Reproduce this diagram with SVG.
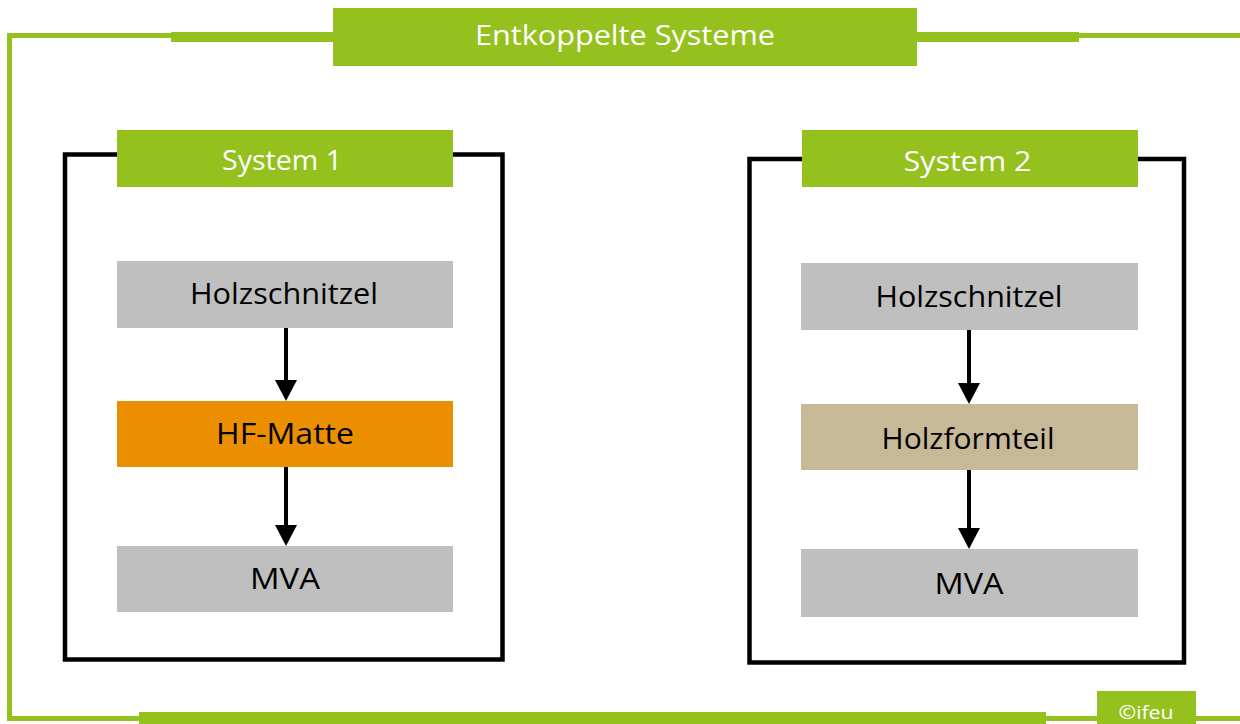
<svg xmlns="http://www.w3.org/2000/svg" width="1240" height="724" viewBox="0 0 1240 724">
<style>
.g{fill:#95C11F}
.frame{fill:none;stroke:#000;stroke-width:4.5}
.outer{fill:none;stroke:#95C11F;stroke-width:5}
.ht{font-family:"Open Sans","Liberation Sans",sans-serif;fill:#fff;text-anchor:middle}
.nt{font-family:"Open Sans","Liberation Sans",sans-serif;fill:#000;font-size:29px;text-anchor:middle}
.grey{fill:#BFBFBF}
.orange{fill:#EB8F00}
.tan{fill:#C7B998}
.arr{stroke:#000;stroke-width:4;fill:none}
.head{fill:#000}
</style>
<rect width="1240" height="724" fill="#fff"/>
<g id="outer-frame">
<path class="outer" d="M1240,35.5 H9.5 V718.5 H1240"/>
<rect class="g" x="171" y="32" width="162" height="10"/>
<rect class="g" x="917" y="32" width="162" height="10"/>
<rect class="g" x="139" y="712" width="907" height="12"/>
</g>
<g id="title">
<rect class="g" x="333" y="8" width="584" height="58"/>
<text class="ht" x="625" y="45" font-size="28" textLength="300" lengthAdjust="spacingAndGlyphs">Entkoppelte Systeme</text>
</g>
<g id="copyright">
<rect class="g" x="1097" y="691" width="99" height="33"/>
<text class="ht" x="1146" y="719" font-size="19" textLength="55" lengthAdjust="spacingAndGlyphs">©ifeu</text>
</g>
<g id="system1">
<rect class="frame" x="65" y="154.5" width="437.5" height="505"/>
<rect class="g" x="117" y="130" width="336" height="57"/>
<text class="ht" x="282" y="170" font-size="27" textLength="120" lengthAdjust="spacingAndGlyphs">System 1</text>
</g>
<g id="system2">
<rect class="frame" x="749.5" y="159" width="434.5" height="503.5"/>
<rect class="g" x="802" y="130" width="336" height="57"/>
<text class="ht" x="967.5" y="171" font-size="27" textLength="128" lengthAdjust="spacingAndGlyphs">System 2</text>
</g>
<g id="s1-holzschnitzel">
<rect class="grey" x="117" y="261" width="336" height="67"/>
<text class="nt" x="284" y="304" textLength="188" lengthAdjust="spacingAndGlyphs">Holzschnitzel</text>
</g>
<g id="s1-hf-matte">
<rect class="orange" x="117" y="401" width="336" height="66"/>
<text class="nt" x="285" y="444" textLength="138" lengthAdjust="spacingAndGlyphs">HF-Matte</text>
</g>
<g id="s1-mva">
<rect class="grey" x="117" y="546" width="336" height="66"/>
<text class="nt" x="285" y="589" textLength="70" lengthAdjust="spacingAndGlyphs">MVA</text>
</g>
<g id="s2-holzschnitzel">
<rect class="grey" x="801" y="263" width="337" height="67"/>
<text class="nt" x="969" y="307" textLength="187" lengthAdjust="spacingAndGlyphs">Holzschnitzel</text>
</g>
<g id="s2-holzformteil">
<rect class="tan" x="801" y="404" width="337" height="66"/>
<text class="nt" x="968" y="449" textLength="173" lengthAdjust="spacingAndGlyphs">Holzformteil</text>
</g>
<g id="s2-mva">
<rect class="grey" x="801" y="549" width="337" height="68"/>
<text class="nt" x="969" y="594" textLength="69" lengthAdjust="spacingAndGlyphs">MVA</text>
</g>
<g id="connectors">
<line class="arr" x1="286" y1="328" x2="286" y2="382"/>
<polygon class="head" points="275,380 297,380 286,401"/>
<line class="arr" x1="286" y1="467" x2="286" y2="527"/>
<polygon class="head" points="275,525 297,525 286,546"/>
<line class="arr" x1="969" y1="330" x2="969" y2="385"/>
<polygon class="head" points="958,383 980,383 969,404"/>
<line class="arr" x1="969" y1="470" x2="969" y2="530"/>
<polygon class="head" points="958,528 980,528 969,549"/>
</g>
</svg>
